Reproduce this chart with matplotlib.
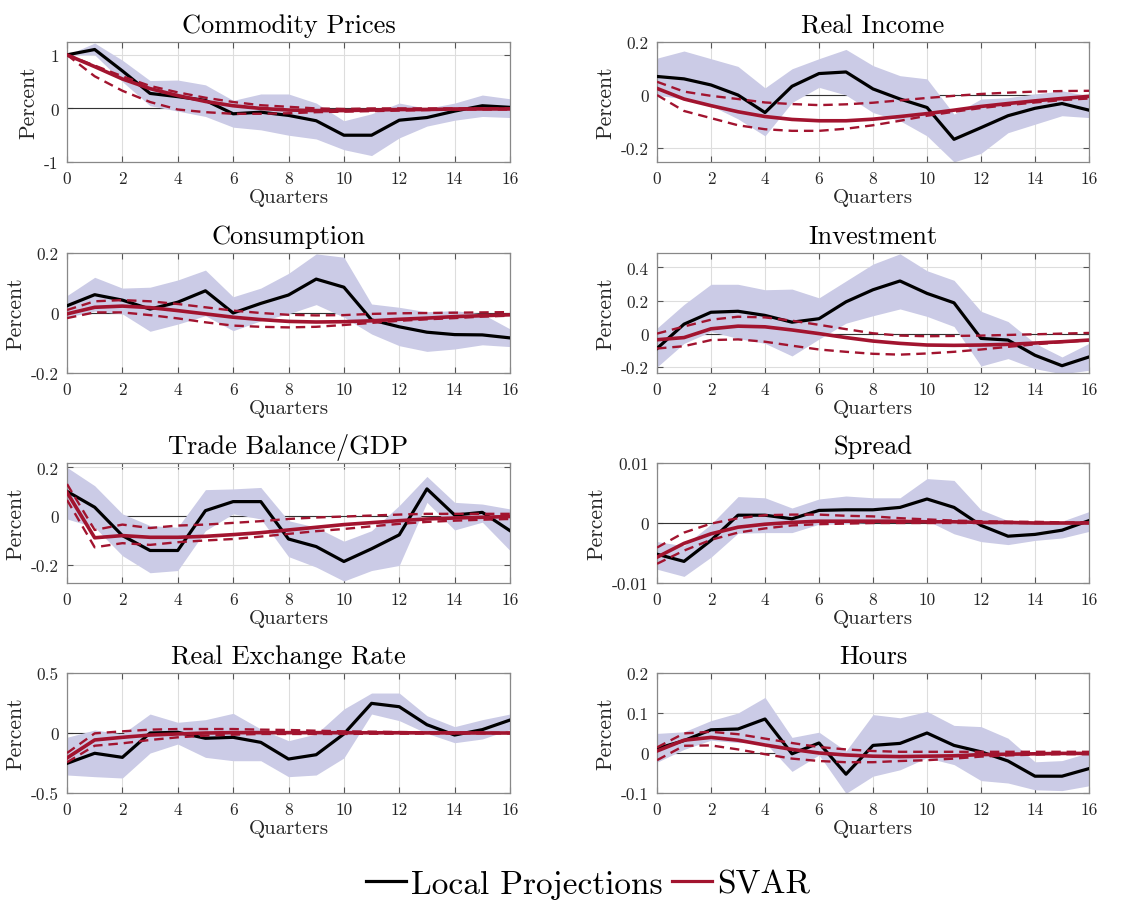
import numpy as np
import matplotlib.pyplot as plt
from matplotlib.lines import Line2D

plt.rcParams['font.family'] = ['cmr10', 'DejaVu Serif']
plt.rcParams['axes.unicode_minus'] = False

quarters = np.arange(17)

# Commodity Prices
comm_lp = [1.0, 1.1, 0.7, 0.28, 0.22, 0.15, -0.1, -0.07, -0.13, -0.23, -0.5, -0.5, -0.22, -0.17, -0.05, 0.05, 0.02]
comm_lp_hi = [1.0, 1.22, 0.9, 0.52, 0.53, 0.44, 0.15, 0.27, 0.27, 0.1, -0.23, -0.1, 0.1, 0.0, 0.1, 0.25, 0.18]
comm_lp_lo = [1.0, 1.0, 0.5, 0.05, -0.05, -0.15, -0.35, -0.4, -0.5, -0.57, -0.77, -0.88, -0.55, -0.33, -0.22, -0.15, -0.17]
comm_svar = [1.0, 0.78, 0.55, 0.37, 0.24, 0.13, 0.05, 0.0, -0.03, -0.04, -0.04, -0.03, -0.02, -0.02, -0.01, -0.01, -0.01]
comm_svar_hi = [1.0, 0.8, 0.6, 0.42, 0.3, 0.2, 0.12, 0.06, 0.03, 0.0, -0.01, 0.0, 0.0, 0.0, 0.0, 0.0, 0.0]
comm_svar_lo = [1.0, 0.6, 0.33, 0.12, -0.02, -0.07, -0.1, -0.1, -0.09, -0.07, -0.06, -0.05, -0.04, -0.03, -0.02, -0.02, -0.02]

# Real Income
inc_lp = [0.07, 0.061, 0.038, 0.0, -0.066, 0.033, 0.081, 0.087, 0.023, -0.015, -0.047, -0.167, -0.123, -0.078, -0.05, -0.032, -0.057]
inc_lp_hi = [0.139, 0.166, 0.137, 0.108, 0.027, 0.099, 0.137, 0.172, 0.111, 0.073, 0.061, -0.072, -0.015, -0.01, 0.004, 0.016, -0.003]
inc_lp_lo = [0.0, -0.015, -0.04, -0.09, -0.154, -0.028, 0.029, 0.0, -0.066, -0.097, -0.154, -0.252, -0.22, -0.142, -0.11, -0.078, -0.085]
inc_svar = [0.025, -0.015, -0.04, -0.063, -0.081, -0.092, -0.097, -0.097, -0.091, -0.081, -0.07, -0.057, -0.043, -0.032, -0.022, -0.013, -0.005]
inc_svar_hi = [0.05, 0.013, -0.003, -0.015, -0.028, -0.034, -0.038, -0.035, -0.029, -0.02, -0.011, -0.003, 0.004, 0.009, 0.013, 0.015, 0.016]
inc_svar_lo = [0.0, -0.06, -0.087, -0.114, -0.129, -0.135, -0.135, -0.127, -0.114, -0.097, -0.078, -0.063, -0.049, -0.038, -0.028, -0.019, -0.013]

# Consumption
cons_lp = [0.024, 0.061, 0.043, 0.013, 0.036, 0.074, 0.0, 0.032, 0.06, 0.113, 0.086, -0.023, -0.046, -0.064, -0.072, -0.073, -0.083]
cons_lp_hi = [0.058, 0.119, 0.083, 0.086, 0.11, 0.143, 0.054, 0.083, 0.132, 0.197, 0.186, 0.03, 0.019, 0.004, 0.008, -0.003, -0.053]
cons_lp_lo = [-0.014, 0.006, -0.003, -0.061, -0.037, -0.009, -0.059, -0.026, -0.003, 0.028, -0.014, -0.07, -0.109, -0.128, -0.12, -0.106, -0.112]
cons_svar = [-0.003, 0.019, 0.023, 0.018, 0.008, -0.003, -0.014, -0.022, -0.028, -0.03, -0.029, -0.026, -0.021, -0.017, -0.012, -0.009, -0.006]
cons_svar_hi = [0.01, 0.039, 0.043, 0.039, 0.03, 0.019, 0.008, 0.0, -0.006, -0.008, -0.007, -0.003, -0.001, 0.0, 0.001, 0.002, 0.003]
cons_svar_lo = [-0.017, 0.002, 0.002, -0.007, -0.018, -0.031, -0.042, -0.046, -0.048, -0.046, -0.04, -0.033, -0.026, -0.021, -0.017, -0.012, -0.009]

# Investment
inv_lp = [-0.09, 0.057, 0.129, 0.135, 0.11, 0.069, 0.09, 0.192, 0.265, 0.318, 0.243, 0.186, -0.029, -0.039, -0.131, -0.194, -0.141]
inv_lp_hi = [0.033, 0.176, 0.298, 0.298, 0.265, 0.269, 0.216, 0.318, 0.42, 0.482, 0.38, 0.322, 0.135, 0.073, -0.059, -0.141, -0.059]
inv_lp_lo = [-0.202, -0.059, 0.012, -0.029, -0.059, -0.135, -0.033, 0.063, 0.108, 0.149, 0.104, 0.043, -0.196, -0.151, -0.212, -0.243, -0.222]
inv_svar = [-0.037, -0.024, 0.029, 0.045, 0.041, 0.022, 0.0, -0.024, -0.045, -0.059, -0.069, -0.071, -0.069, -0.065, -0.057, -0.049, -0.039]
inv_svar_hi = [0.0, 0.043, 0.084, 0.102, 0.098, 0.078, 0.053, 0.027, 0.002, -0.012, -0.016, -0.014, -0.012, -0.008, -0.004, 0.0, 0.004]
inv_svar_lo = [-0.09, -0.076, -0.039, -0.035, -0.049, -0.073, -0.096, -0.11, -0.122, -0.127, -0.12, -0.11, -0.096, -0.08, -0.065, -0.051, -0.041]

# Trade Balance/GDP
tb_lp = [0.102, 0.037, -0.079, -0.14, -0.14, 0.023, 0.06, 0.06, -0.093, -0.124, -0.185, -0.133, -0.076, 0.112, 0.005, 0.016, -0.059]
tb_lp_hi = [0.2, 0.125, 0.01, -0.038, -0.045, 0.109, 0.112, 0.118, -0.018, -0.045, -0.102, -0.059, 0.044, 0.163, 0.057, 0.05, 0.03]
tb_lp_lo = [-0.011, -0.045, -0.161, -0.231, -0.222, -0.059, 0.01, -0.011, -0.165, -0.208, -0.265, -0.222, -0.201, 0.057, -0.056, -0.024, -0.14]
tb_svar = [0.098, -0.088, -0.079, -0.086, -0.086, -0.082, -0.075, -0.067, -0.056, -0.045, -0.034, -0.026, -0.018, -0.011, -0.007, -0.004, -0.001]
tb_svar_hi = [0.132, -0.056, -0.034, -0.048, -0.038, -0.034, -0.027, -0.02, -0.011, -0.005, -0.001, 0.003, 0.007, 0.01, 0.01, 0.01, 0.01]
tb_svar_lo = [0.067, -0.127, -0.11, -0.117, -0.106, -0.099, -0.093, -0.083, -0.072, -0.061, -0.052, -0.041, -0.031, -0.023, -0.018, -0.014, -0.011]

# Spread
spr_lp = [-0.0052, -0.0064, -0.0029, 0.0013, 0.0013, 0.0007, 0.0021, 0.0022, 0.0022, 0.0026, 0.004, 0.0026, -0.0004, -0.0022, -0.0019, -0.0012, 0.0004]
spr_lp_hi = [-0.0031, -0.0038, -0.0002, 0.0044, 0.0042, 0.0025, 0.004, 0.0045, 0.0042, 0.0042, 0.0074, 0.0071, 0.0022, 0.0004, 0.0001, 0.0003, 0.0019]
spr_lp_lo = [-0.0077, -0.0089, -0.0057, -0.0017, -0.0016, -0.0016, -0.0002, -0.0001, 0.0001, 0.0009, 0.0004, -0.0018, -0.0031, -0.0036, -0.0029, -0.0025, -0.0014]
spr_svar = [-0.0057, -0.0034, -0.0018, -0.0007, -0.0002, 0.0001, 0.0003, 0.0003, 0.0003, 0.0003, 0.0002, 0.0002, 0.0001, 0.0001, 0.0, 0.0, 0.0]
spr_svar_hi = [-0.0041, -0.0016, -0.0001, 0.0008, 0.0013, 0.0014, 0.0014, 0.0012, 0.0011, 0.0008, 0.0006, 0.0004, 0.0003, 0.0002, 0.0002, 0.0001, 0.0001]
spr_svar_lo = [-0.0068, -0.0046, -0.0028, -0.0016, -0.0009, -0.0004, -0.0002, -0.0001, 0.0, 0.0, 0.0, 0.0, 0.0, 0.0, 0.0, 0.0, 0.0]

# Real Exchange Rate
rer_lp = [-0.253, -0.169, -0.203, 0.0, 0.006, -0.044, -0.036, -0.078, -0.217, -0.181, -0.008, 0.247, 0.219, 0.069, -0.017, 0.028, 0.108]
rer_lp_hi = [-0.036, 0.025, -0.008, 0.158, 0.089, 0.111, 0.164, 0.033, -0.064, -0.008, 0.2, 0.333, 0.333, 0.144, 0.053, 0.111, 0.158]
rer_lp_lo = [-0.35, -0.364, -0.375, -0.167, -0.092, -0.203, -0.231, -0.231, -0.364, -0.35, -0.208, 0.158, 0.103, -0.003, -0.081, -0.05, 0.028]
rer_svar = [-0.208, -0.058, -0.036, -0.017, -0.008, 0.0, 0.003, 0.003, 0.003, 0.003, 0.002, 0.002, 0.002, 0.001, 0.001, 0.0, 0.0]
rer_svar_hi = [-0.167, -0.003, 0.014, 0.028, 0.033, 0.033, 0.033, 0.028, 0.025, 0.019, 0.014, 0.011, 0.008, 0.006, 0.006, 0.003, 0.003]
rer_svar_lo = [-0.244, -0.106, -0.086, -0.058, -0.036, -0.022, -0.014, -0.008, -0.008, -0.008, -0.008, -0.006, -0.006, -0.005, -0.004, -0.003, -0.003]

# Hours
hrs_lp = [0.011, 0.031, 0.058, 0.06, 0.085, -0.002, 0.025, -0.053, 0.019, 0.024, 0.05, 0.019, 0.003, -0.02, -0.058, -0.058, -0.039]
hrs_lp_hi = [0.049, 0.053, 0.081, 0.1, 0.139, 0.039, 0.052, 0.005, 0.096, 0.088, 0.104, 0.069, 0.066, 0.037, -0.022, -0.019, 0.001]
hrs_lp_lo = [-0.023, 0.009, 0.032, 0.026, 0.026, -0.046, -0.005, -0.101, -0.058, -0.042, -0.012, -0.029, -0.069, -0.075, -0.092, -0.094, -0.082]
hrs_svar = [0.005, 0.032, 0.039, 0.032, 0.02, 0.009, 0.0, -0.005, -0.008, -0.009, -0.008, -0.007, -0.004, -0.003, -0.002, -0.001, -0.001]
hrs_svar_hi = [0.014, 0.049, 0.053, 0.047, 0.036, 0.025, 0.015, 0.009, 0.005, 0.003, 0.003, 0.003, 0.003, 0.003, 0.003, 0.003, 0.003]
hrs_svar_lo = [-0.018, 0.018, 0.019, 0.009, -0.003, -0.014, -0.02, -0.023, -0.023, -0.02, -0.018, -0.014, -0.009, -0.006, -0.004, -0.003, -0.003]

titles = ['Commodity Prices', 'Real Income', 'Consumption', 'Investment',
          'Trade Balance/GDP', 'Spread', 'Real Exchange Rate', 'Hours']
series = [
    (comm_lp, comm_lp_lo, comm_lp_hi, comm_svar, comm_svar_lo, comm_svar_hi),
    (inc_lp, inc_lp_lo, inc_lp_hi, inc_svar, inc_svar_lo, inc_svar_hi),
    (cons_lp, cons_lp_lo, cons_lp_hi, cons_svar, cons_svar_lo, cons_svar_hi),
    (inv_lp, inv_lp_lo, inv_lp_hi, inv_svar, inv_svar_lo, inv_svar_hi),
    (tb_lp, tb_lp_lo, tb_lp_hi, tb_svar, tb_svar_lo, tb_svar_hi),
    (spr_lp, spr_lp_lo, spr_lp_hi, spr_svar, spr_svar_lo, spr_svar_hi),
    (rer_lp, rer_lp_lo, rer_lp_hi, rer_svar, rer_svar_lo, rer_svar_hi),
    (hrs_lp, hrs_lp_lo, hrs_lp_hi, hrs_svar, hrs_svar_lo, hrs_svar_hi),
]
yticks = [[-1, 0, 1], [-0.2, 0, 0.2], [-0.2, 0, 0.2], [-0.2, 0, 0.2, 0.4],
          [-0.2, 0, 0.2], [-0.01, 0, 0.01], [-0.5, 0, 0.5], [-0.1, 0, 0.1, 0.2]]
ytick_labels = [['-1', '0', '1'], ['-0.2', '0', '0.2'], ['-0.2', '0', '0.2'],
                ['-0.2', '0', '0.2', '0.4'], ['-0.2', '0', '0.2'],
                ['-0.01', '0', '0.01'], ['-0.5', '0', '0.5'],
                ['-0.1', '0', '0.1', '0.2']]
ylims = [(-1.0, 1.24), (-0.2525, 0.2), (-0.2, 0.2), (-0.238, 0.487),
         (-0.273, 0.218), (-0.01, 0.01), (-0.5, 0.5), (-0.1, 0.2)]

W, H = 1124, 912
# axes boxes in pixels: left, top, right, bottom
col_x = [(67, 510), (657, 1089)]
row_y = [(43, 163), (254, 374), (464, 584), (674, 794)]

RED = '#A2142F'
SHADE = '#CBCBE6'
TXT = '#262626'

fig = plt.figure(figsize=(W / 100, H / 100), dpi=100)

for k in range(8):
    r, c = divmod(k, 2)
    x0, x1 = col_x[c]
    y0, y1 = row_y[r]
    ax = fig.add_axes([x0 / W, 1 - y1 / H, (x1 - x0) / W, (y1 - y0) / H])
    lp, lp_lo, lp_hi, sv, sv_lo, sv_hi = series[k]

    ax.axhline(0, color='#333333', lw=0.8, zorder=1)
    ax.fill_between(quarters, lp_lo, lp_hi, color=SHADE, lw=0, zorder=2)
    ax.plot(quarters, lp, color='black', lw=2.3, zorder=4)
    ax.plot(quarters, sv, color=RED, lw=2.6, zorder=5)
    ax.plot(quarters, sv_lo, color=RED, lw=1.7, ls=(0, (4, 2.5)), zorder=5)
    ax.plot(quarters, sv_hi, color=RED, lw=1.7, ls=(0, (4, 2.5)), zorder=5)

    ax.set_xlim(0, 16)
    ax.set_ylim(*ylims[k])
    ax.set_xticks(range(0, 17, 2))
    ax.set_xticklabels([str(v) for v in range(0, 17, 2)])
    ax.set_yticks(yticks[k])
    ax.set_yticklabels(ytick_labels[k])
    ax.grid(True, color='#dddddd', lw=0.8, zorder=0)
    ax.set_axisbelow(True)
    ax.tick_params(direction='in', top=True, right=True, length=4,
                   width=0.8, color='#555555', labelsize=12.5,
                   labelcolor=TXT, pad=6)
    for s in ax.spines.values():
        s.set_color('#888888')
        s.set_linewidth(0.9)

    ax.set_title(titles[k], fontsize=19, color='black', pad=7)
    ax.set_xlabel('Quarters', fontsize=15, color=TXT, labelpad=2)
    ax.set_ylabel('Percent', fontsize=15.5, color=TXT, labelpad=4)

handles = [Line2D([], [], color='black', lw=2.3),
           Line2D([], [], color=RED, lw=2.3)]
fig.legend(handles, ['Local Projections', 'SVAR'], loc='center',
           bbox_to_anchor=(588 / W, 1 - 885 / H), ncol=2, fontsize=24,
           frameon=False, handlelength=1.2, handletextpad=0.15,
           columnspacing=0.3)

fig.savefig('out.png', dpi=100)
